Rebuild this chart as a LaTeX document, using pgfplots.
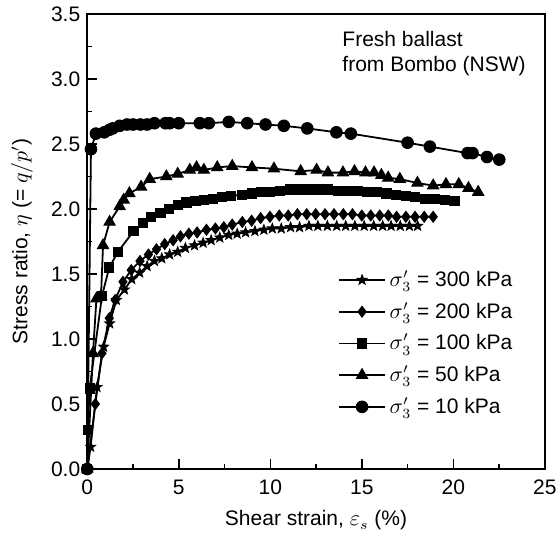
\documentclass[border=0pt]{standalone}
\usepackage{fontspec}
\setmainfont{Liberation Sans}
\usepackage{pgfplots}
\pgfplotsset{compat=1.18}
\pgfdeclareplotmark{fstar}{%
  \pgfpathmoveto{\pgfpointpolar{90}{\pgfplotmarksize}}%
  \pgfpathlineto{\pgfpointpolar{126}{0.42\pgfplotmarksize}}%
  \pgfpathlineto{\pgfpointpolar{162}{\pgfplotmarksize}}%
  \pgfpathlineto{\pgfpointpolar{198}{0.42\pgfplotmarksize}}%
  \pgfpathlineto{\pgfpointpolar{234}{\pgfplotmarksize}}%
  \pgfpathlineto{\pgfpointpolar{270}{0.42\pgfplotmarksize}}%
  \pgfpathlineto{\pgfpointpolar{306}{\pgfplotmarksize}}%
  \pgfpathlineto{\pgfpointpolar{342}{0.42\pgfplotmarksize}}%
  \pgfpathlineto{\pgfpointpolar{18}{\pgfplotmarksize}}%
  \pgfpathlineto{\pgfpointpolar{54}{0.42\pgfplotmarksize}}%
  \pgfpathclose
  \pgfusepathqfillstroke}
\begin{document}
\begin{tikzpicture}[font=\fontsize{10.5}{12.6}\selectfont]
\begin{axis}[
  scale only axis, width=228.75pt, height=227.5pt,
  xmin=0, xmax=25, ymin=0, ymax=3.5,
  xtick={0,5,10,15,20,25},
  ytick={0,0.5,1,1.5,2,2.5,3,3.5},
  minor x tick num=1, minor y tick num=1,
  tick align=inside, xtick pos=bottom, ytick pos=left,
  major tick length=5pt, minor tick length=2.5pt,
  every tick/.style={black, line width=0.8pt},
  axis line style={line width=0.8pt},
  /pgf/number format/assume math mode=true,
  yticklabel style={/pgf/number format/.cd, fixed, fixed zerofill, precision=1},
  xticklabel style={yshift=-2pt},
  font=\fontsize{10.5}{12.6}\selectfont,
  xlabel={Shear strain, $\varepsilon_s$ (\%)},
  ylabel={Stress ratio, $\eta$ (= $q/p'$)},
  xlabel style={at={(axis description cs:0.5,-0.113)}, anchor=center},
  ylabel style={at={(axis description cs:-0.143,0.5)}, anchor=center},
  every axis plot/.append style={black, line width=0.9pt, mark options={solid, fill=black, line width=0.5pt}},
  legend style={at={(axis cs:13.7,1.56)}, anchor=north west, draw=none, fill=none,
     inner sep=0pt, row sep=2.5pt, cells={anchor=west}, font=\fontsize{10.5}{12.6}\selectfont},
  legend image code/.code={\draw[mark repeat=2, mark phase=2, #1] plot coordinates {(0cm,0cm) (0.4cm,0cm) (0.8cm,0cm)};},
]
% 300 kPa
\addplot[mark=fstar, mark size=2.5pt] coordinates {
(0,0) (0.18,0.17) (0.53,0.63) (0.89,0.94) (1.22,1.12) (1.59,1.30) (2.03,1.38) (2.43,1.46) (2.86,1.51)
(3.27,1.56) (3.67,1.60) (4.07,1.62) (4.5,1.65) (4.94,1.67) (5.36,1.70) (5.86,1.72) (6.33,1.74)
(6.77,1.76) (7.24,1.78) (7.73,1.80) (8.19,1.81) (8.65,1.82) (9.16,1.83) (9.65,1.84) (10.11,1.85)
(10.6,1.85) (11.11,1.86) (11.6,1.86) (12.11,1.87) (12.6,1.87) (13.12,1.87) (13.63,1.87) (14.12,1.87)
(14.62,1.87) (15.13,1.87) (15.65,1.87) (16.14,1.87) (16.6,1.87) (17.1,1.87) (17.6,1.87) (18.05,1.87)
};
\addlegendentry{$\sigma'_3$ = 300 kPa}
% 200 kPa
\addplot[mark=diamond*, mark size=2.7pt] coordinates {
(0,0) (0.44,0.50) (0.8,0.89) (1.2,1.16) (1.52,1.30) (1.95,1.44) (2.4,1.53) (2.88,1.60) (3.34,1.65)
(3.78,1.69) (4.23,1.73) (4.69,1.76) (5.09,1.79) (5.55,1.81) (6.0,1.82) (6.51,1.84) (7.0,1.85)
(7.46,1.86) (7.92,1.88) (8.47,1.90) (8.98,1.91) (9.47,1.93) (9.98,1.94) (10.49,1.95) (10.98,1.95)
(11.48,1.96) (11.99,1.96) (12.48,1.96) (12.99,1.96) (13.48,1.96) (13.99,1.96) (14.49,1.96) (15.0,1.95)
(15.49,1.95) (15.98,1.95) (16.45,1.95) (16.9,1.94) (17.41,1.94) (17.91,1.94) (18.41,1.94) (18.9,1.94)
};
\addlegendentry{$\sigma'_3$ = 200 kPa}
% 100 kPa
\addplot[mark=square*, mark size=2.3pt] coordinates {
(0,0) (0.02,0.30) (0.13,0.62) (0.8,1.33) (1.2,1.55) (1.67,1.67) (2.53,1.83) (3.03,1.89) (3.5,1.94)
(4.0,1.97) (4.45,2.00) (4.95,2.03) (5.42,2.05) (5.91,2.06) (6.37,2.07) (6.88,2.08) (7.37,2.09)
(7.86,2.10) (8.47,2.11) (8.98,2.12) (9.47,2.13) (9.98,2.13) (10.53,2.14) (11.06,2.15) (11.57,2.15)
(12.11,2.15) (12.6,2.15) (13.15,2.15) (13.7,2.14) (14.21,2.14) (14.76,2.14) (15.31,2.13) (15.82,2.13)
(16.35,2.12) (16.86,2.11) (17.41,2.10) (17.91,2.09) (18.46,2.08) (18.99,2.08) (19.54,2.07) (20.07,2.06)
};
\addlegendentry{$\sigma'_3$ = 100 kPa}
% 50 kPa
\addplot[mark=triangle*, mark size=3.2pt] coordinates {
(0,0) (0.31,0.89) (0.5,1.31) (0.75,1.33) (0.86,1.72) (1.22,1.90) (1.77,2.02) (1.99,2.07) (2.3,2.12)
(2.94,2.17) (3.41,2.23) (4.32,2.25) (4.94,2.27) (5.6,2.30) (5.97,2.32) (6.37,2.30) (7.1,2.32)
(7.92,2.33) (9.0,2.32) (10.2,2.31) (11.66,2.29) (12.53,2.30) (13.15,2.28) (13.97,2.28) (14.6,2.29)
(15.2,2.28) (15.67,2.28) (16.07,2.26) (16.44,2.24) (17.08,2.23) (18.04,2.20) (18.9,2.18) (19.6,2.19)
(20.3,2.19) (20.83,2.16) (21.36,2.13)
};
\addlegendentry{$\sigma'_3$ = 50 kPa}
% 10 kPa
\addplot[mark=*, mark size=2.9pt] coordinates {
(0,0) (0.2,2.46) (0.47,2.58) (0.93,2.59) (1.22,2.61) (1.39,2.62) (1.77,2.64) (2.17,2.65) (2.5,2.65)
(2.9,2.65) (3.27,2.65) (3.67,2.66) (4.27,2.66) (4.5,2.66) (5.0,2.66) (6.15,2.66) (6.64,2.66)
(7.73,2.67) (8.74,2.66) (9.74,2.65) (10.74,2.64) (12.02,2.62) (13.61,2.59) (14.4,2.58) (17.5,2.51)
(18.72,2.48) (20.78,2.43) (21.05,2.43) (21.84,2.40) (22.51,2.38)
};
\addlegendentry{$\sigma'_3$ = 10 kPa}
\node[anchor=north west, align=left, inner sep=0pt] at (axis cs:13.92,3.37) {Fresh ballast\\from Bombo (NSW)};
\end{axis}
\pgfresetboundingbox
\path (-43.65pt,-31.5pt) rectangle (234.35pt,234.5pt);
\end{tikzpicture}
\end{document}
